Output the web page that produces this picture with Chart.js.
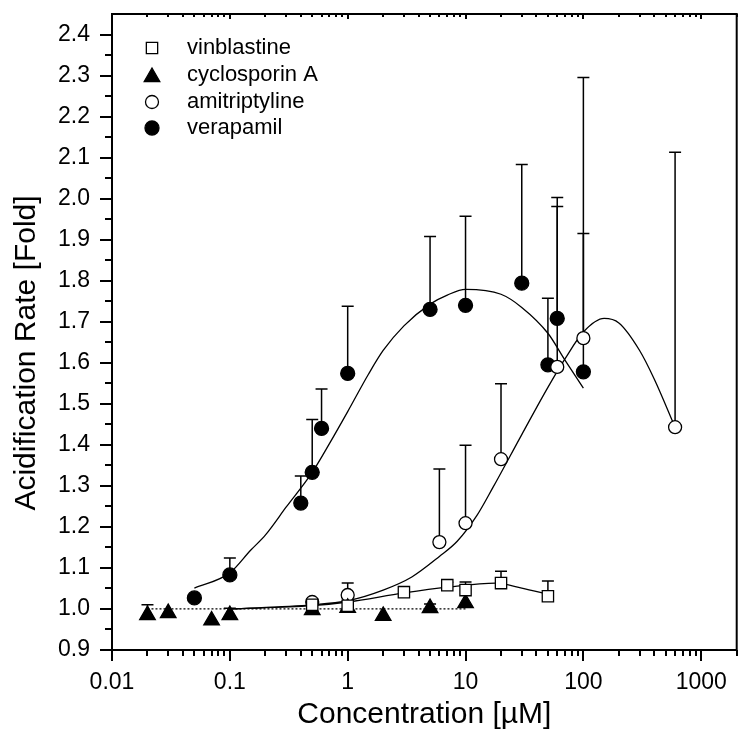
<!DOCTYPE html>
<html>
<head>
<meta charset="utf-8">
<script src="https://cdn.jsdelivr.net/npm/chart.js@4"></script>
<style>
  body { margin: 0; background: #fff; }
</style>
</head>
<body>
<canvas id="chart" width="747" height="729"></canvas>
<script>
// tick labels
const xTickVals = [0.01, 0.1, 1, 10, 100, 1000];
const xTickLabels = ['0.01', '0.1', '1', '10', '100', '1000'];
const yTickVals = [0.9, 1.0, 1.1, 1.2, 1.3, 1.4, 1.5, 1.6, 1.7, 1.8, 1.9, 2.0, 2.1, 2.2, 2.3, 2.4];
const seriesNames = ['vinblastine', 'cyclosporin A', 'amitriptyline', 'verapamil'];

// measured points (x in µM, y fold, upper error bar end)
const vinblastineX = [0.5, 1, 3, 7, 10, 20, 50];
const vinblastineY = [1.010, 1.008, 1.041, 1.058, 1.046, 1.063, 1.031];
const vinblastineErr = [null, null, null, 1.065, 1.066, 1.092, 1.068];

const cyclosporinX = [0.02, 0.03, 0.07, 0.1, 0.5, 1, 2, 5, 10];
const cyclosporinY = [0.985, 0.990, 0.972, 0.985, 0.997, 1.003, 0.983, 1.002, 1.014];
const cyclosporinErr = [1.010, null, null, 1.002, null, null, null, 1.012, null];

const amitriptylineX = [0.5, 1, 6, 10, 20, 60, 100, 600];
const amitriptylineY = [1.017, 1.034, 1.163, 1.209, 1.365, 1.590, 1.660, 1.443];
const amitriptylineErr = [null, 1.063, 1.341, 1.399, 1.549, 1.981, 2.295, 2.113];

const verapamilX = [0.05, 0.1, 0.4, 0.5, 0.6, 1, 5, 10, 30, 50, 60, 100];
const verapamilY = [1.027, 1.083, 1.258, 1.333, 1.440, 1.574, 1.730, 1.740, 1.794, 1.595, 1.708, 1.578];
const verapamilErr = [null, 1.124, 1.324, 1.462, 1.536, 1.738, 1.908, 1.957, 2.083, 1.757, 2.003, 1.915];

// fitted curves
const vinblastineFitX = [0.1, 0.5, 1, 3, 7, 18, 30, 50];
const vinblastineFitY = [1.000, 1.008, 1.017, 1.039, 1.053, 1.063, 1.051, 1.036];

const amitriptylineFitX = [0.1, 0.5, 1, 2, 3.5, 6, 8.5, 12.5, 17, 30, 50, 70, 100, 150, 200, 300, 400, 600];
const amitriptylineFitY = [1.000, 1.010, 1.020, 1.046, 1.078, 1.128, 1.165, 1.228, 1.295, 1.425, 1.540, 1.610, 1.675, 1.708, 1.697, 1.630, 1.560, 1.443];

const verapamilFitX = [0.05, 0.1, 0.15, 0.2, 0.3, 0.5, 0.7, 1, 1.5, 2, 3, 5, 7, 10, 20, 30, 50, 70, 100];
const verapamilFitY = [1.051, 1.088, 1.143, 1.180, 1.248, 1.333, 1.403, 1.481, 1.572, 1.630, 1.690, 1.743, 1.765, 1.779, 1.767, 1.735, 1.672, 1.606, 1.538];

const baselineX = [0.02, 10];
const baselineY = [1.0, 1.0];

const pts = (xs, ys) => xs.map((x, i) => ({ x: x, y: ys[i] }));

Chart.defaults.font.family = "'Liberation Sans', Arial, sans-serif";
Chart.defaults.color = '#000';

const markerStyle = [
  { pointStyle: 'rect', radius: 8, fill: '#fff' },
  { pointStyle: 'triangle', radius: 9, fill: '#000' },
  { pointStyle: 'circle', radius: 6.5, fill: '#fff' },
  { pointStyle: 'circle', radius: 7, fill: '#000' }
];

function markerSet(i, xs, ys, err) {
  const m = markerStyle[i];
  return {
    label: seriesNames[i],
    data: pts(xs, ys),
    errTop: err,
    showLine: false,
    pointStyle: m.pointStyle,
    pointRadius: m.radius,
    pointBackgroundColor: m.fill,
    pointBorderColor: '#000',
    pointBorderWidth: 1.3,
    order: 1
  };
}

function fitSet(xs, ys, dash) {
  return {
    data: pts(xs, ys),
    showLine: true,
    borderColor: '#000',
    borderWidth: dash ? 1.2 : 1.3,
    borderDash: dash || [],
    pointRadius: 0,
    cubicInterpolationMode: 'monotone',
    order: 2
  };
}

// upper error bars with caps
const errorBars = {
  id: 'errorBars',
  beforeDatasetsDraw(chart) {
    const { ctx, scales: { x, y } } = chart;
    ctx.save();
    ctx.strokeStyle = '#000';
    ctx.lineWidth = 1.5;
    chart.data.datasets.forEach(ds => {
      if (!ds.errTop) return;
      ds.data.forEach((p, i) => {
        const top = ds.errTop[i];
        if (top == null) return;
        const px = x.getPixelForValue(p.x);
        const py = y.getPixelForValue(p.y);
        const pt = y.getPixelForValue(top);
        ctx.beginPath();
        ctx.moveTo(px, py);
        ctx.lineTo(px, pt);
        ctx.moveTo(px - 6, pt);
        ctx.lineTo(px + 6, pt);
        ctx.stroke();
      });
    });
    ctx.restore();
  }
};

// box, tick marks, axis titles and legend
const frame = {
  id: 'frame',
  afterDraw(chart) {
    const { ctx, chartArea: a, scales: { x, y } } = chart;
    ctx.save();
    ctx.strokeStyle = '#000';
    ctx.lineWidth = 2;
    ctx.strokeRect(a.left, a.top, a.right - a.left, a.bottom - a.top);

    ctx.beginPath();
    for (let i = 18; i <= 48; i++) {
      const py = Math.round(y.getPixelForValue(i * 0.05));
      const len = i % 2 === 0 ? 12 : 7;
      ctx.moveTo(a.left - len, py);
      ctx.lineTo(a.left, py);
    }
    for (let d = -2; d <= 3; d++) {
      for (let m = 1; m <= 9; m++) {
        const v = m * Math.pow(10, d);
        if (v > x.max) break;
        const px = Math.round(x.getPixelForValue(v));
        const major = m === 1;
        ctx.moveTo(px, a.bottom);
        ctx.lineTo(px, a.bottom + (major ? 11 : 6));
        ctx.moveTo(px, a.top);
        ctx.lineTo(px, a.top + (major ? 5 : 3));
      }
    }
    ctx.stroke();

    ctx.fillStyle = '#000';
    ctx.font = "30px 'Liberation Sans', Arial, sans-serif";
    ctx.textAlign = 'center';
    ctx.textBaseline = 'alphabetic';
    ctx.fillText('Concentration [\u00b5M]', (a.left + a.right) / 2, 723);
    ctx.save();
    ctx.translate(35, 353);
    ctx.rotate(-Math.PI / 2);
    ctx.fillText('Acidification Rate [Fold]', 0, 0);
    ctx.restore();

    ctx.font = "22px 'Liberation Sans', Arial, sans-serif";
    ctx.textAlign = 'left';
    ctx.textBaseline = 'middle';
    const rows = [48, 75, 102, 128];
    seriesNames.forEach((name, i) => {
      const m = markerStyle[i];
      ctx.fillStyle = m.fill;
      ctx.strokeStyle = '#000';
      ctx.lineWidth = 1.3;
      Chart.helpers.drawPoint(ctx, { pointStyle: m.pointStyle, radius: m.radius, rotation: 0, borderWidth: 1.3 }, 152, rows[i] + (m.pointStyle === 'triangle' ? 2 : 0));
      ctx.fillStyle = '#000';
      ctx.fillText(name, 187, rows[i]);
    });
    ctx.restore();
  }
};

new Chart(document.getElementById('chart'), {
  type: 'scatter',
  data: {
    datasets: [
      markerSet(0, vinblastineX, vinblastineY, vinblastineErr),
      markerSet(1, cyclosporinX, cyclosporinY, cyclosporinErr),
      markerSet(2, amitriptylineX, amitriptylineY, amitriptylineErr),
      markerSet(3, verapamilX, verapamilY, verapamilErr),
      fitSet(vinblastineFitX, vinblastineFitY),
      fitSet(amitriptylineFitX, amitriptylineFitY),
      fitSet(verapamilFitX, verapamilFitY),
      fitSet(baselineX, baselineY, [2, 2])
    ]
  },
  options: {
    responsive: false,
    animation: false,
    layout: { padding: { top: 14, right: 1, left: 0, bottom: 0 } },
    plugins: { legend: { display: false }, tooltip: { enabled: false } },
    scales: {
      x: {
        type: 'logarithmic',
        min: 0.01,
        max: 2000,
        grid: { display: false, drawTicks: false },
        border: { display: false },
        afterBuildTicks: s => { s.ticks = xTickVals.map(v => ({ value: v })); },
        afterFit: s => { s.height = 79; s.paddingLeft = 0; s.paddingRight = 0; },
        ticks: {
          autoSkip: false,
          maxRotation: 0,
          padding: 19,
          font: { size: 23 },
          callback: (v, i) => xTickLabels[i]
        }
      },
      y: {
        min: 0.9,
        max: 2.45,
        grid: { display: false, drawTicks: false },
        border: { display: false },
        afterBuildTicks: s => { s.ticks = yTickVals.map(v => ({ value: v })); },
        afterFit: s => { s.width = 112; s.paddingTop = 0; s.paddingBottom = 0; },
        ticks: {
          padding: 22,
          font: { size: 23 },
          callback: v => v.toFixed(1)
        }
      }
    }
  },
  plugins: [errorBars, frame]
});
</script>
</body>
</html>
